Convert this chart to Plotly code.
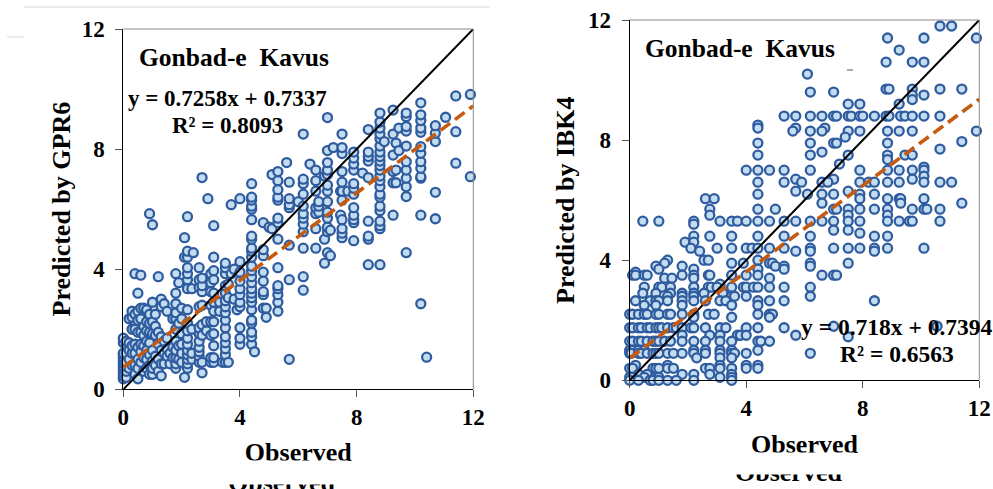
import plotly.graph_objects as go

# GPR6 panel: observed value of each column, and predicted values in that column
gpr6_obs = [0.0,0.1,0.2,0.3,0.4,0.5,0.6,0.7,0.8,0.9,1.0,1.1,1.2,1.3,1.4,1.5,1.6,1.7,1.8,1.9,2.0,2.1,2.2,2.35,2.4,2.6,2.7,2.85,2.9,3.0,3.1,3.3,3.4,3.5,3.6,3.7,3.8,3.9,4.0,4.4,4.5,4.8,4.9,5.0,5.1,5.3,5.6,5.69,6.0,6.17,6.4,6.6,6.7,6.9,7.0,7.1,7.2,7.45,7.5,7.7,7.9,8.2,8.4,8.8,8.95,9.25,9.35,9.45,9.7,10.2,10.4,10.7,11.05,11.4,11.9]
gpr6_pred = [
 [0.35,0.45,0.55,0.65,0.75,0.85,0.95,1.05,1.15,1.2,1.55,1.7],
 [0.4,0.6,0.75,0.9,1.2,1.5,1.6],
 [0.7,1.0,1.3,1.55,2.35],
 [0.8,1.2,1.45,2.0,2.4,2.6],
 [0.5,0.8,1.2,1.5,2.0,2.5,3.85],
 [0.35,0.7,1.0,1.4,1.9,2.3,2.6,3.2],
 [0.9,1.25,1.5,1.9,2.35,2.7,3.8],
 [0.6,1.05,1.45,1.8,2.1,2.7],
 [0.7,1.0,1.3,1.6,1.95,2.25,2.65],
 [0.5,0.8,1.15,1.55,1.9,2.2,2.5,5.85],
 [0.5,0.7,0.95,1.3,1.85,2.25,2.9,5.48],
 [0.8,1.1,1.8,2.1,2.5],
 [0.6,1.0,1.5,1.9,3.75],
 [0.45,0.85,1.3,1.75,2.75,3.0],
 [0.85,1.2,1.6,2.85],
 [1.1,1.35,1.7,2.6],
 [0.85,1.2],
 [1.05,1.4,2.35],
 [0.7,0.85,1.05,1.3,1.6,2.0,2.35,2.55,2.85,3.2,3.85],
 [1.0,1.45,2.2,3.55],
 [0.9,1.2,1.5,1.85,2.35,2.7],
 [0.4,4.4,5.05],
 [0.7,0.85,1.0,1.15,1.3,1.5,1.7,1.95,2.2,2.65,3.35,3.65,3.85,4.05,4.4,4.6,5.75],
 [1.0,1.2,2.0,3.35],
 [4.55],
 [0.9,1.1,1.25,1.4,1.6,1.85,2.05,2.75,3.4,3.65,4.05],
 [0.55,0.9,1.8,2.15,2.8,3.25,3.45,3.7,7.05],
 [1.95,2.25],
 [6.35],
 [0.9,1.05,1.8,2.25,2.8,3.25,3.55,3.85],
 [0.9,1.05,1.45,1.85,2.25,2.6,2.9,3.2,3.65,3.95,4.4,5.45],
 [2.6,2.9],
 [0.9],
 [0.9,1.15,1.35,1.55,1.75,2.05,2.3,2.55,2.75,2.95,3.2,3.45,3.85,4.05,4.2],
 [0.9,3.05,3.5],
 [3.85,6.15],
 [3.0,4.0],
 [2.65],
 [1.5,1.7,2.05,2.75,2.9,3.15,3.35,3.6,3.9,4.25,6.35],
 [1.5,1.75,1.9,2.2,2.3,2.65,2.9,3.05,3.2,3.35,3.55,3.75,3.95,4.1,4.4,4.6,4.7,5.0,5.1,5.65,6.0,6.1,6.3,6.4,6.85],
 [1.25],
 [2.7,3.15,3.25,3.6,3.9,4.45,4.65,5.55],
 [2.4,2.7],
 [5.4],
 [5.35,7.15],
 [2.6,2.9,3.15,3.35,3.45,4.05,5.0,5.55,5.7,6.3,6.4,6.65,6.95,7.25],
 [7.55],
 [1.0,3.65,4.8,6.05,6.15,6.35,6.9],
 [6.25],
 [3.3,3.75,4.7,5.25,5.5,5.7,5.85,6.1,6.5,6.85,7.0,8.5],
 [7.5],
 [4.7,5.35,5.85,6.05,6.6,6.95,7.3],
 [5.9,6.1,6.25],
 [4.2,5.0,7.1],
 [4.55,5.25,5.4,5.7,5.9,6.25,6.6,6.8,7.15,7.3,7.55,7.95,9.05],
 [4.45,5.3],
 [8.05],
 [5.8,6.6],
 [5.05,5.2,5.35,5.65,6.3,6.6,6.9,7.25,7.85,8.05,8.5],
 [6.6],
 [4.95,5.55,5.65,5.8,6.05,6.5,6.7,6.85,7.3,7.5,7.7,7.9],
 [7.2],
 [4.15,5.0,5.1,5.6,7.05,7.6,7.75,7.9,8.65],
 [4.15,5.35,5.45,5.6,5.95,6.1,6.4,6.5,6.75,6.95,7.1,7.3,7.45,7.6,7.75,7.9,8.1,8.35,8.5,8.7,8.9,9.2],
 [8.25],
 [5.8,6.88,7.25,7.8,8.5,9.3],
 [6.88,7.3,8.2],
 [7.95,8.7],
 [4.55,6.42,6.75,7.03,7.3,7.58,8.1,8.6,8.75,9.08,9.2],
 [2.85,5.8,7.03,7.08,7.36,7.58,7.86,8.08,8.56,8.7,8.95,9.14,9.54],
 [1.07],
 [5.68,6.56,8.25,8.53,8.78],
 [9.06],
 [7.53,8.58,9.77],
 [7.08,9.82],
]

# IBK4 panel: predicted level of each row, and observed values in that row
ibk4_pred = [11.8,11.4,11.0,10.6,10.2,9.7,9.6,9.5,9.35,9.2,8.8,8.5,8.4,8.3,8.1,7.95,7.9,7.7,7.6,7.5,7.35,7.2,7.1,7.0,6.8,6.7,6.6,6.3,6.2,6.05,5.9,5.7,5.5,5.3,5.2,5.0,4.9,4.8,4.6,4.4,4.3,4.0,3.9,3.8,3.7,3.6,3.5,3.4,3.2,3.1,2.9,2.8,2.65,2.5,2.2,2.1,1.8,1.75,1.5,1.45,1.3,1.0,0.9,0.75,0.5,0.4,0.2,0.1,0.0]
ibk4_obs = [
 [10.65,11.05],
 [8.85,10.1,11.9],
 [9.25],
 [8.8,9.7,10.1],
 [6.1],
 [8.8,8.9,9.7,10.65,11.4],
 [6.2,7.0],
 [9.7,10.1],
 [9.7],
 [7.5,7.9,9.25],
 [5.3,5.7,6.2,6.6,7.0,7.1,7.5,7.6,7.9,8.0,8.4,8.8,8.9,9.3,9.45,9.7,10.1,10.65],
 [4.4],
 [4.4,5.7,6.7],
 [5.6,6.2,6.6,7.5,7.9,8.85,9.25,9.7,11.9],
 [7.4],
 [11.4],
 [4.4,6.2,7.0,7.1,8.85],
 [10.65],
 [6.6],
 [4.4,6.2,7.5,8.85,9.45,9.7],
 [8.85],
 [7.2],
 [10.1],
 [4.0,4.4,4.8,5.3,6.2,7.9,8.85,9.25,9.7,10.1],
 [10.1],
 [5.7,7.0,9.7],
 [4.4,5.3,5.9,6.6,6.8,7.9,8.2,8.4,8.85,9.25,10.1,10.65,11.05],
 [5.7,7.5],
 [4.4,6.1,6.6,7.0,7.9,8.4],
 [2.6,2.9,7.9,8.85,9.25,9.3,10.1],
 [6.6,9.3,11.4],
 [2.75,4.4,5.0,7.0,7.1,7.5,7.9,8.4,8.85,9.7,10.1,10.2,10.65],
 [2.75,7.5,8.85],
 [0.45,1.0,2.2,3.1,3.5,3.7,4.0,4.4,4.8,5.3,5.7,6.2,6.6,7.0,7.5,7.9,8.85,9.25,9.6,9.7,10.65],
 [2.2],
 [7.0,7.5],
 [7.9],
 [2.2,2.75,3.5,4.4,5.3,6.2,8.4,8.85],
 [1.9,2.2],
 [2.1,3.0,3.5,4.0,4.2,4.4,4.8,5.3,6.2,7.0,7.5,7.9,8.4,8.85,10.1],
 [2.4,5.7,6.2,8.4],
 [1.3,2.55,2.7,4.4],
 [1.2,3.5,3.9,4.8,4.9,6.2,7.5],
 [0.9,1.8,5.0,5.3,6.2],
 [1.0,2.2,4.4,5.3],
 [0.2],
 [0.1,0.2,0.5,0.6,1.8,2.2,2.7,2.75,3.5,4.0,4.4,6.6,7.0,7.1],
 [1.2,1.45,2.2,4.8],
 [3.1],
 [0.5,1.0,1.1,1.4,2.2,2.7,2.8,3.0,3.5,3.9,4.0,4.25,4.4,4.8,5.3,6.2],
 [0.45,0.9,1.4,1.8,2.2,2.55,3.2],
 [1.3,1.8,2.2,3.5,3.6,4.0,6.2],
 [0.2,0.7,0.9,1.0,1.3,1.8,2.2,2.6,3.1,3.3,4.4,4.8,5.3,8.4],
 [0.5,0.9,1.8,3.5,4.4],
 [0.0,0.1,0.3,0.5,0.6,0.9,1.0,1.3,1.4,1.8,2.2,2.7,2.9,4.4,4.8,4.9],
 [2.2,3.5,4.8],
 [7.0,10.55],
 [0.0,0.1,0.3,0.4,0.6,0.7,0.9,1.0,1.1,1.3,1.5,1.6,1.8,2.1,2.2,2.6,3.1,3.3,4.0,4.4,5.3],
 [1.8,2.75,3.1,3.7,3.8,4.0,5.7],
 [7.5],
 [0.0,0.1,0.3,0.4,0.6,0.8,0.9,1.0,1.2,1.4,1.8,2.2,2.6,3.1,3.5,4.4,4.5,4.8],
 [0.0,0.1,0.3,0.5,2.2,2.6,3.1,3.5,4.4],
 [0.0,0.05,0.3,0.4,0.6,0.8,0.9,1.0,1.3,1.5,1.8,2.2,2.6,3.1,3.5,3.6,4.0,6.2],
 [2.3,3.1,3.5],
 [0.2,1.3,3.1,4.0,4.4],
 [0.0,0.1,0.8,0.9,1.0,1.3,1.5,2.6,2.75,3.1,3.5,4.0,4.4],
 [0.3,0.6,1.8,2.2,2.75,3.5],
 [0.0,0.1,0.5,0.9,1.0,3.1,3.5],
 [0.0,0.3,0.7,0.8,1.0,1.3,1.6,2.2,3.5],
]

one_to_one = [0, 12]
fit_x = [0, 12]
gpr6_fit = [0.73, 9.44]
ibk4_fit = [0.74, 9.36]
tick_vals = [0, 4, 8, 12]
tick_text = ["0", "4", "8", "12"]

gpr6_x = [x for x, ys in zip(gpr6_obs, gpr6_pred) for _ in ys]
gpr6_y = [y for ys in gpr6_pred for y in ys]
ibk4_y = [y for y, xs in zip(ibk4_pred, ibk4_obs) for _ in xs]
ibk4_x = [x for xs in ibk4_obs for x in xs]

W, H = 993, 489
SERIF = "Liberation Serif"
BLUE = "#2f5c9f"
FILL = "#c3dcef"
ORANGE = "#c55a11"


def px(v):
    return v / W


def py(v):
    return 1 - v / H


fig = go.Figure()
panels = [
    ("x", "y", gpr6_x, gpr6_y, gpr6_fit),
    ("x2", "y2", ibk4_x, ibk4_y, ibk4_fit),
]
for xa, ya, xs, ys, fit in panels:
    fig.add_trace(go.Scatter(x=xs, y=ys, xaxis=xa, yaxis=ya, mode="markers", cliponaxis=False,
                             marker=dict(size=9, color=FILL, line=dict(color=BLUE, width=2.3))))
    fig.add_trace(go.Scatter(x=one_to_one, y=one_to_one, xaxis=xa, yaxis=ya, mode="lines",
                             line=dict(color="black", width=2)))
    fig.add_trace(go.Scatter(x=fit_x, y=fit, xaxis=xa, yaxis=ya, mode="lines",
                             line=dict(color=ORANGE, width=3.6, dash="12px 6px")))


def axis(domain, anchor, title, standoff, label_gap=0):
    return dict(
        domain=domain, anchor=anchor, range=[0, 12], tickvals=tick_vals, ticktext=tick_text,
        ticks="outside", ticklen=7, tickwidth=1, tickcolor="#555555", ticklabelstandoff=label_gap,
        showline=True, linecolor="black", linewidth=1, showgrid=False, zeroline=False,
        tickfont=dict(family=SERIF, size=23, color="black", weight=700),
        title=dict(text=title, standoff=standoff, font=dict(family=SERIF, size=26, color="black", weight=700)),
        automargin=False,
    )


L = dict(x0=123.3, x1=473.3, y0=389.3, y1=29)
R = dict(x0=629.7, x1=979.3, y0=380.3, y1=20)

layout = dict(
    width=W, height=H, margin=dict(l=0, r=0, t=0, b=0), showlegend=False,
    paper_bgcolor="white", plot_bgcolor="white",
    xaxis=axis([px(L["x0"]), px(L["x1"])], "y", "Observed", 13),
    yaxis=axis([py(L["y0"]), py(L["y1"])], "x", "Predicted by GPR6", 3, 6),
    xaxis2=axis([px(R["x0"]), px(R["x1"])], "y2", "Observed", 14),
    yaxis2=axis([py(R["y0"]), py(R["y1"])], "x2", "Predicted by IBK4", 5, 6),
)
fig.update_layout(**layout)

shapes = []
for xr, yr in (("x domain", "y domain"), ("x2 domain", "y2 domain")):
    shapes.append(dict(type="line", xref=xr, yref=yr, x0=0, x1=1, y0=1, y1=1, line=dict(color="#8a8a8a", width=1)))
    shapes.append(dict(type="line", xref=xr, yref=yr, x0=1, x1=1, y0=0, y1=1, line=dict(color="#8a8a8a", width=1)))
# faint scan artefacts along the top of the picture
for a, b, c, color in ((24, 490, 7, "#d8d8d8"), (7, 24, 37, "#d8d8d8"), (847, 853, 70, "#555555")):
    shapes.append(dict(type="line", xref="paper", yref="paper", x0=px(a), x1=px(b), y0=py(c), y1=py(c),
                       line=dict(color=color, width=1)))
fig.update_layout(shapes=shapes)


def note(text, x, y, size):
    return dict(text=text, xref="paper", yref="paper", x=px(x), y=py(y), xanchor="center", yanchor="middle",
                showarrow=False, font=dict(family=SERIF, size=size, color="black", weight=700))


annotations = [
    note("Gonbad-e  Kavus", 233.5, 57, 25.5),
    note("y = 0.7258x + 0.7337", 227, 98, 23),
    note("R² = 0.8093", 227, 125, 23),
    note("Gonbad-e  Kavus", 739.5, 49, 25.5),
    note("y = 0.718x + 0.7394", 897, 327, 23.5),
    note("R² = 0.6563", 897, 354, 23.5),
    note("Observed", 281.5, 482, 26),
    note("Observed", 788, 472, 26),
]
for x, y, w, h in ((281.5, 472.5, 130, 21), (788, 463.5, 130, 19)):
    annotations.append(dict(text=" ", xref="paper", yref="paper", x=px(x), y=py(y), xanchor="center", yanchor="middle",
                            showarrow=False, width=w, height=h, bgcolor="white"))
fig.update_layout(annotations=annotations)

fig.write_html("out.html", config={"displayModeBar": False},
               post_script="document.body.style.margin='0';document.body.style.overflow='hidden';")
